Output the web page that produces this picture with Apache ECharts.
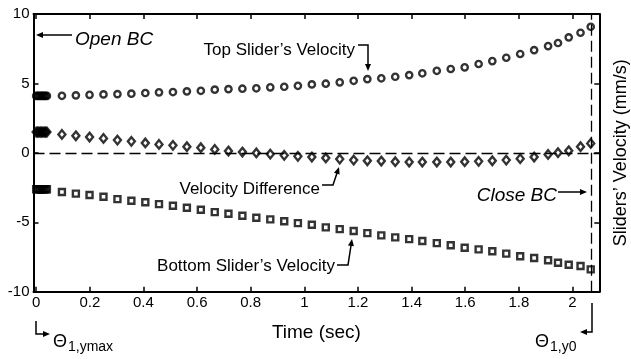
<!DOCTYPE html>
<html>
<head>
<meta charset="utf-8">
<script src="https://cdn.jsdelivr.net/npm/echarts@6/dist/echarts.min.js"></script>
<style>
  html, body { margin: 0; padding: 0; background: #fff; }
  #chart { width: 631px; height: 359px; }
</style>
</head>
<body>
<div id="chart"></div>
<script>
// time of each sample (sec)
const timeSec = [
  0, 0.005, 0.01, 0.015, 0.02, 0.025, 0.03, 0.035, 0.04,
  0.096, 0.148, 0.199, 0.251, 0.303, 0.355, 0.407, 0.458, 0.510, 0.562,
  0.614, 0.666, 0.717, 0.769, 0.821, 0.873, 0.925, 0.976, 1.028, 1.080,
  1.132, 1.184, 1.235, 1.287, 1.339, 1.391, 1.440, 1.494, 1.546, 1.598,
  1.650, 1.701, 1.753, 1.805, 1.857, 1.909, 1.946, 1.986, 2.030, 2.068
];
const topVelocity = [
  4.1, 4.1, 4.1, 4.1, 4.1, 4.1, 4.1, 4.1, 4.1,
  4.11, 4.14, 4.18, 4.21, 4.23, 4.26, 4.31, 4.36, 4.38, 4.43,
  4.47, 4.55, 4.59, 4.62, 4.65, 4.72, 4.76, 4.83, 4.93, 4.98,
  5.08, 5.19, 5.31, 5.37, 5.48, 5.60, 5.73, 5.91, 6.04, 6.16,
  6.40, 6.61, 6.85, 7.12, 7.40, 7.69, 7.91, 8.32, 8.65, 9.08
];
const velocityDiff = [
  1.5, 1.5, 1.5, 1.5, 1.5, 1.5, 1.5, 1.5, 1.5,
  1.33, 1.23, 1.14, 1.04, 0.92, 0.83, 0.71, 0.61, 0.54, 0.44,
  0.37, 0.25, 0.13, 0.06, -0.01, -0.09, -0.18, -0.25, -0.30, -0.37,
  -0.45, -0.52, -0.57, -0.59, -0.64, -0.66, -0.66, -0.66, -0.66, -0.64,
  -0.61, -0.57, -0.52, -0.42, -0.30, -0.11, 0.01, 0.15, 0.44, 0.68
];
const bottomVelocity = [
  -2.62, -2.62, -2.62, -2.62, -2.62, -2.62, -2.62, -2.62, -2.62,
  -2.82, -2.94, -3.04, -3.16, -3.33, -3.45, -3.56, -3.69, -3.81, -3.95,
  -4.10, -4.27, -4.39, -4.53, -4.67, -4.79, -4.93, -5.06, -5.18, -5.37,
  -5.49, -5.63, -5.78, -5.94, -6.09, -6.21, -6.35, -6.50, -6.66, -6.83,
  -6.95, -7.09, -7.26, -7.45, -7.57, -7.74, -7.91, -8.06, -8.15, -8.39
];
const timeTicks = [0, 0.2, 0.4, 0.6, 0.8, 1, 1.2, 1.4, 1.6, 1.8, 2];
const closeTime = 2.068;

const FONT = '"Liberation Sans", Arial, sans-serif';
const pairs = (ys) => timeSec.map((t, i) => [t, ys[i]]);

// arrow: polyline ending in a filled head at the last point
function arrow(points, head = 7, half = 3) {
  const [x1, y1] = points[points.length - 2];
  const [x2, y2] = points[points.length - 1];
  const len = Math.hypot(x2 - x1, y2 - y1);
  const ux = (x2 - x1) / len, uy = (y2 - y1) / len;
  const bx = x2 - ux * head, by = y2 - uy * head;
  return [
    { type: 'polyline', z: 100, silent: true,
      shape: { points: points.slice(0, -1).concat([[bx + ux, by + uy]]) },
      style: { stroke: '#000', lineWidth: 1.5, fill: null } },
    { type: 'polygon', z: 100, silent: true,
      shape: { points: [[x2, y2], [bx - uy * half, by + ux * half], [bx + uy * half, by - ux * half]] },
      style: { fill: '#000' } }
  ];
}
function text(str, x, y, font, align) {
  return { type: 'text', x, y, z: 100, silent: true,
    style: { text: str, font, fill: '#000', textAlign: align || 'left', textVerticalAlign: 'middle' } };
}

const chart = echarts.init(document.getElementById('chart'), null, { renderer: 'canvas' });

const frameAxis = { onZero: false, lineStyle: { color: '#000', width: 2 } };
const tickStyle = { inside: true, length: 5, lineStyle: { color: '#000', width: 1.5 } };
const labelStyle = { color: '#000', fontSize: 15, fontFamily: FONT };

const markerStyle = { color: 'rgba(0,0,0,0)', borderColor: '#000', borderWidth: 2.4 };

chart.setOption({
  animation: false,
  backgroundColor: '#fff',
  grid: { left: 33.5, right: 31.7, top: 14, bottom: 67.3, containLabel: false, outerBoundsMode: 'none' },
  xAxis: [
    {
      type: 'value', position: 'bottom', min: -0.01, max: 2.1,
      axisLine: frameAxis,
      axisTick: Object.assign({ customValues: timeTicks }, tickStyle),
      axisLabel: Object.assign({ customValues: timeTicks, margin: 4 }, labelStyle),
      splitLine: { show: false },
      name: 'Time (sec)', nameLocation: 'middle', nameGap: 32,
      nameTextStyle: { color: '#000', fontSize: 19, fontFamily: FONT }
    },
    {
      type: 'value', position: 'top', min: -0.01, max: 2.1,
      axisLine: frameAxis,
      axisTick: Object.assign({ customValues: timeTicks }, tickStyle),
      axisLabel: { show: false },
      splitLine: { show: false }
    }
  ],
  yAxis: [
    {
      type: 'value', position: 'left', min: -10, max: 10, interval: 5,
      axisLine: frameAxis,
      axisTick: tickStyle,
      axisLabel: Object.assign({ margin: 4 }, labelStyle),
      splitLine: { show: false }
    },
    {
      type: 'value', position: 'right', min: -10, max: 10, interval: 5,
      axisLine: frameAxis,
      axisTick: tickStyle,
      axisLabel: { show: false },
      splitLine: { show: false },
      name: 'Sliders\u2019 Velocity (mm/s)', nameLocation: 'middle', nameGap: 13, nameRotate: 90,
      nameTextStyle: { color: '#000', fontSize: 18, fontFamily: FONT }
    }
  ],
  series: [
    {
      name: 'Top Slider\u2019s Velocity', type: 'scatter', symbol: 'circle', symbolSize: 6.3,
      data: pairs(topVelocity), itemStyle: markerStyle, z: 3
    },
    {
      name: 'Velocity Difference', type: 'scatter', symbol: 'diamond', symbolSize: [7, 8.5],
      data: pairs(velocityDiff), itemStyle: markerStyle, z: 3,
      markLine: {
        silent: true, symbol: ['none', 'none'], label: { show: false },
        lineStyle: { color: '#000', width: 1.3, type: [11, 5] },
        data: [{ yAxis: 0 }, { xAxis: closeTime }]
      }
    },
    {
      name: 'Bottom Slider\u2019s Velocity', type: 'scatter', symbol: 'rect', symbolSize: 6,
      data: pairs(bottomVelocity), itemStyle: markerStyle, z: 3
    }
  ],
  graphic: [
    ...arrow([[72, 35], [36, 35]]),
    text('Open BC', 75, 40, 'italic 19px ' + FONT),
    text('Top Slider\u2019s Velocity', 355, 50, '17px ' + FONT, 'right'),
    ...arrow([[358, 45], [368, 45], [368, 71]]),
    text('Velocity Difference', 320, 189, '17px ' + FONT, 'right'),
    ...arrow([[322, 185], [333, 185], [339, 167]]),
    text('Bottom Slider\u2019s Velocity', 335, 266, '17px ' + FONT, 'right'),
    ...arrow([[337, 265], [348, 265], [352, 239]]),
    text('Close BC', 557, 196, 'italic 19px ' + FONT, 'right'),
    ...arrow([[558, 192], [587, 192]]),
    ...arrow([[36, 321], [36, 334], [50, 334]]),
    text('\u0398', 53, 342, '18px ' + FONT),
    text('1,ymax', 68, 347, '14px ' + FONT),
    ...arrow([[592, 303], [592, 332], [580, 332]]),
    text('\u0398', 535, 342, '18px ' + FONT),
    text('1,y0', 550, 347, '14px ' + FONT)
  ]
});
</script>
</body>
</html>
